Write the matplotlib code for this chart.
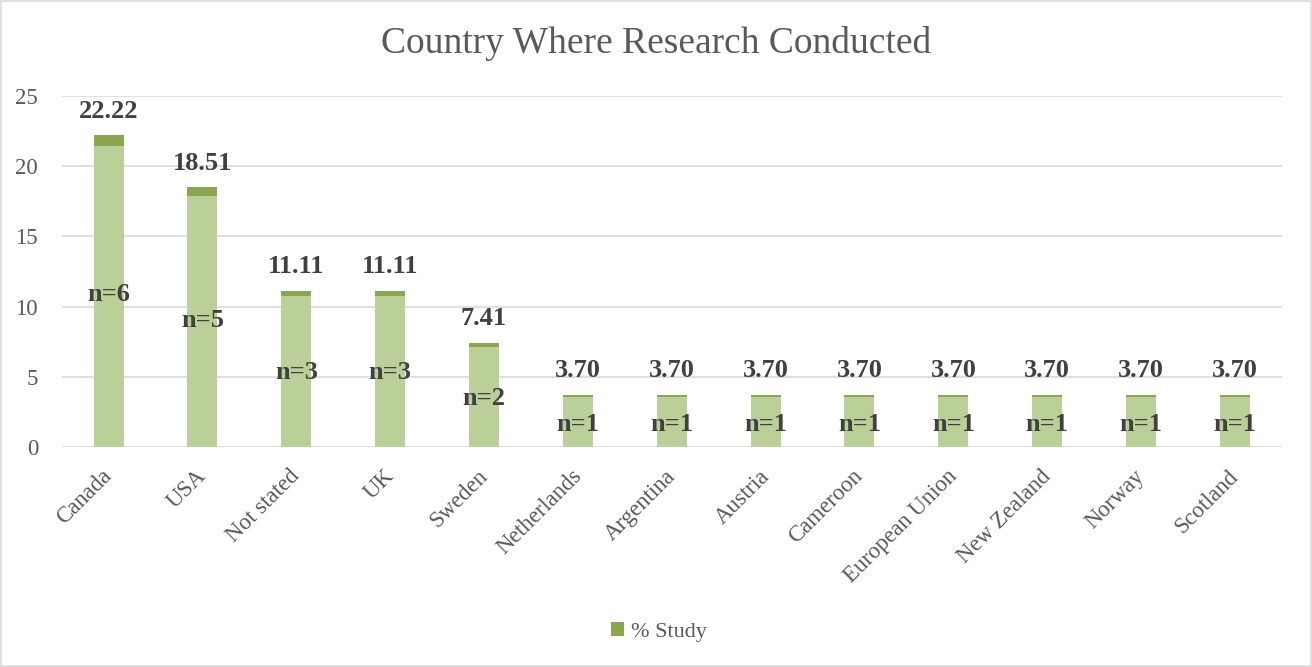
import matplotlib.pyplot as plt
from matplotlib.patches import Rectangle
from matplotlib.transforms import ScaledTranslation

plt.rcParams['font.family'] = ['Liberation Serif', 'DejaVu Serif']

countries = ['Canada', 'USA', 'Not stated', 'UK', 'Sweden', 'Netherlands', 'Argentina',
             'Austria', 'Cameroon', 'European Union', 'New Zealand', 'Norway', 'Scotland']
pct_study = [22.22, 18.51, 11.11, 11.11, 7.41, 3.70, 3.70, 3.70, 3.70, 3.70, 3.70, 3.70, 3.70]
n_studies = [6, 5, 3, 3, 2, 1, 1, 1, 1, 1, 1, 1, 1]

dark = '#8AA64F'
light = '#BBD098'
grey = '#595959'

fig = plt.figure(figsize=(13.12, 6.67), dpi=100)
ax = fig.add_axes([0.047, 0.330, 0.930, 0.526])

x = range(len(countries))
# dark bar = the series, lighter body on top of it leaves a dark cap
ax.bar(x, pct_study, width=0.32, color=dark, zorder=2, label='% Study')
ax.bar(x, [v * 0.965 for v in pct_study], width=0.32, color=light, zorder=3)

for i, (v, n) in enumerate(zip(pct_study, n_studies)):
    ax.annotate(f'{v:.2f}', (i, v), xytext=(0, 9), textcoords='offset points',
                ha='center', va='bottom', fontsize=19, fontweight='bold', color='#404040', zorder=5)
    ax.annotate(f'n={n}', (i, v / 2), xytext=(0, -2.5), textcoords='offset points',
                ha='center', va='center', fontsize=19, fontweight='bold', color='#404040', zorder=5)

ax.set_ylim(0, 25)
ax.set_xlim(-0.5, len(countries) - 0.5)
ax.set_yticks(range(0, 26, 5))
ax.tick_params(axis='both', length=0, labelsize=16.5, colors=grey)
ax.tick_params(axis='x', pad=13.5)
ax.tick_params(axis='y', pad=17)
ax.set_xticks(list(x))
ax.set_xticklabels(countries, rotation=45, ha='right', rotation_mode='anchor')
shift = ScaledTranslation(-5 / 72, 0, fig.dpi_scale_trans)
for lbl in ax.get_xticklabels():
    lbl.set_transform(lbl.get_transform() + shift)
ax.grid(axis='y', color='#D9D9D9', linewidth=1.2, zorder=0)
for s in ax.spines.values():
    s.set_visible(False)

fig.text(0.5, 0.935, 'Country Where Research Conducted', fontsize=27, color=grey,
         ha='center', va='center')

h, l = ax.get_legend_handles_labels()
leg = fig.legend(h, l, loc='center', bbox_to_anchor=(0.502, 0.052), frameon=False, fontsize=16,
                 handlelength=0.6, handleheight=0.6, handletextpad=0.3)
for t in leg.get_texts():
    t.set_color(grey)

fig.patches.append(Rectangle((0.001, 0.001), 0.998, 0.998, transform=fig.transFigure,
                             fill=False, edgecolor='#D9D9D9', linewidth=1.2))

plt.savefig('out.png', dpi=100)
